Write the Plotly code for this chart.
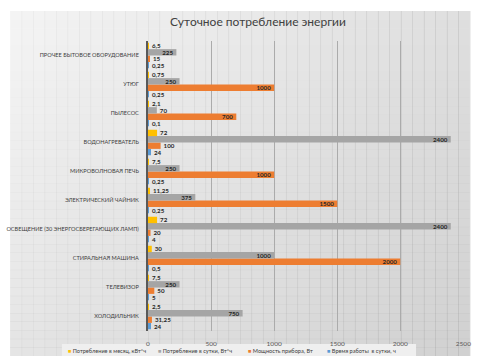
import plotly.graph_objects as go

# Appliances, listed bottom to top
categories = [
    "ХОЛОДИЛЬНИК",
    "ТЕЛЕВИЗОР",
    "СТИРАЛЬНАЯ МАШИНА",
    "ОСВЕЩЕНИЕ (30 ЭНЕРГОСБЕРЕГАЮЩИХ ЛАМП)",
    "ЭЛЕКТРИЧЕСКИЙ ЧАЙНИК",
    "МИКРОВОЛНОВАЯ ПЕЧЬ",
    "ВОДОНАГРЕВАТЕЛЬ",
    "ПЫЛЕСОС",
    "УТЮГ",
    "ПРОЧЕЕ БЫТОВОЕ ОБОРУДОВАНИЕ",
]
hours_per_day = [24, 5, 0.5, 4, 0.25, 0.25, 24, 0.1, 0.25, 0.25]
power_w = [31.25, 50, 2000, 20, 1500, 1000, 100, 700, 1000, 15]
daily_wh = [750, 250, 1000, 2400, 375, 250, 2400, 70, 250, 225]
monthly_kwh = [2.5, 7.5, 30, 72, 11.25, 7.5, 72, 2.1, 0.75, 6.5]

x_ticks = [0, 500, 1000, 1500, 2000, 2500]

# Drawing order: first series sits lowest inside each group
series = [
    ("Время работы  в сутки, ч", hours_per_day, "#5B9BD5"),
    ("Мощность прибора, Вт", power_w, "#ED7D31"),
    ("Потребление в сутки, Вт*ч", daily_wh, "#A5A5A5"),
    ("Потребление в месяц, кВт*ч", monthly_kwh, "#FFC000"),
]

W, H = 477, 356
ML, MR, MT, MB = 148, 6, 41, 25
PW, PH = W - ML - MR, H - MT - MB
X_MAX = 2505
LABEL_SIZE = 6.2


def fmt(v):
    return f"{v:g}".replace(".", ",")


def label_pos(v, txt):
    # value label goes inside the bar end when the bar is long enough
    bar_px = v / X_MAX * PW
    txt_px = sum(1.6 if ch == "," else 3.6 for ch in txt)
    return "inside" if bar_px >= txt_px + 5 else "outside"


def px_x(px):
    return (px - ML) / PW


def px_y(py):
    return (H - MB - py) / PH


fig = go.Figure()
for name, vals, color in series:
    texts = [fmt(v) for v in vals]
    fig.add_trace(go.Bar(
        y=categories, x=vals, name=name, orientation="h",
        marker=dict(color=color, line=dict(width=0)),
        text=texts,
        textposition=[label_pos(v, t) for v, t in zip(vals, texts)],
        insidetextanchor="end",
        textfont=dict(family="Lato", size=LABEL_SIZE, color="#262626", weight="bold"),
        constraintext="none", cliponaxis=False,
        showlegend=False,
    ))

# Soft grey gradient behind the chart area
shapes = []
n = 40
left, right, top, bottom = 7, W, 11, H
for i in range(n):
    shapes.append(dict(
        type="rect", xref="paper", yref="paper", layer="below",
        x0=px_x(left + i * (right - left) / n),
        x1=px_x(left + (i + 1) * (right - left) / n) + 0.002,
        y0=px_y(bottom), y1=px_y(top),
        fillcolor=f"rgba(0,0,0,{0.045 + 0.08 * i / (n - 1):.3f})",
        line=dict(width=0),
    ))
for j in range(n):
    shapes.append(dict(
        type="rect", xref="paper", yref="paper", layer="below",
        x0=px_x(left), x1=px_x(right),
        y0=px_y(top + (j + 1) * (bottom - top) / n) - 0.002,
        y1=px_y(top + j * (bottom - top) / n),
        fillcolor=f"rgba(0,0,0,{0.06 * j / (n - 1):.3f})",
        line=dict(width=0),
    ))

# Legend strip along the bottom
shapes.append(dict(
    type="rect", xref="paper", yref="paper", layer="below",
    x0=px_x(60), x1=px_x(422), y0=px_y(357), y1=px_y(344),
    fillcolor="#efefef", line=dict(width=0),
))
legend_x = [64, 156, 248, 329]
annotations = []
for (name, _, color), lx in zip(reversed(series), legend_x):
    annotations.append(dict(
        xref="paper", yref="paper", x=px_x(lx), y=px_y(350.5),
        xanchor="left", yanchor="middle", showarrow=False,
        text=f"<span style='color:{color}'>■</span> {name}",
        font=dict(family="Lato", size=5.6, color="#404040"),
    ))

fig.update_layout(
    width=W, height=H,
    margin=dict(l=ML, r=MR, t=MT, b=MB),
    paper_bgcolor="white",
    plot_bgcolor="rgba(0,0,0,0)",
    barmode="group", bargap=0.12, bargroupgap=0,
    font=dict(family="Lato", color="#404040"),
    title=dict(
        text="Суточное потребление энергии",
        x=258 / W, xanchor="center", xref="container",
        y=1 - 22 / H, yanchor="middle", yref="container",
        font=dict(family="Lato", size=12, color="#404040"),
    ),
    xaxis=dict(
        range=[0, X_MAX], tickvals=x_ticks,
        ticktext=[str(t) for t in x_ticks],
        showgrid=True, gridcolor="#ababab", gridwidth=1,
        zeroline=False, showline=False,
        tickfont=dict(size=6.5, color="#595959"),
        ticks="", ticklabelstandoff=7, ticklabeloverflow="allow",
        fixedrange=True,
    ),
    yaxis=dict(
        categoryorder="array", categoryarray=categories,
        showline=True, linecolor="#595959", linewidth=2,
        showgrid=False, ticks="",
        tickfont=dict(size=5.6, color="#404040"),
        ticklabelstandoff=6, fixedrange=True,
    ),
    shapes=shapes,
    annotations=annotations,
    showlegend=False,
)

fig.write_html("out.html")
